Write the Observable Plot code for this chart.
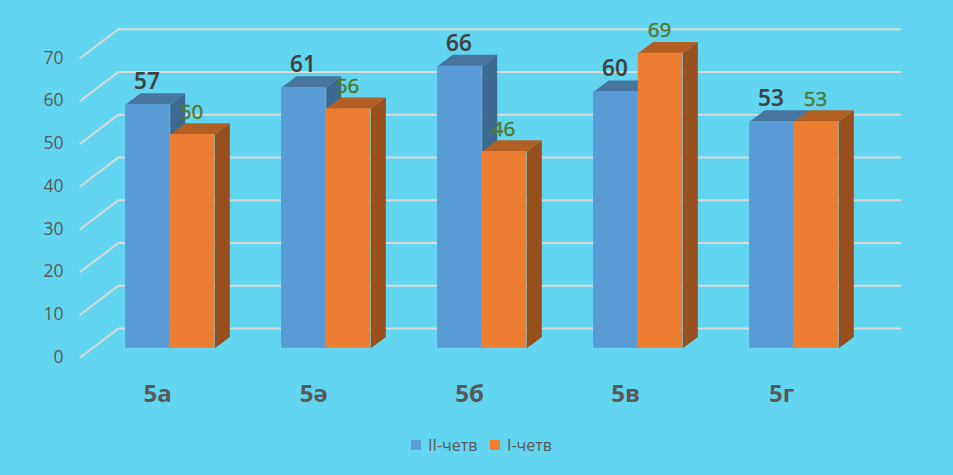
<!DOCTYPE html>
<html>
<head>
<meta charset="utf-8">
<script src="https://cdn.jsdelivr.net/npm/d3@7"></script>
<script src="https://cdn.jsdelivr.net/npm/@observablehq/plot@0.6"></script>
<style>
  html, body { margin: 0; padding: 0; background: #62D5F0; overflow: hidden; }
  #legend { height: 50px; position: relative; font-family: "Open Sans", sans-serif; font-size: 16px; color: #595959; }
  #legend span { position: absolute; top: 8px; line-height: 24px; white-space: nowrap; }
  #legend i { position: absolute; top: 15px; width: 10px; height: 10px; }
</style>
</head>
<body>
<div id="chart"></div>
<div id="legend">
  <i style="left:411px;background:#5B9BD5"></i><span style="left:428px">II-четв</span>
  <i style="left:490px;background:#ED7D31"></i><span style="left:507px">I-четв</span>
</div>
<script>
const categories = ["5а", "5ә", "5б", "5в", "5г"];
const quarter2 = [57, 61, 66, 60, 53];
const quarter1 = [50, 56, 46, 69, 53];
const gridValues = [0, 10, 20, 30, 40, 50, 60, 70];

const W = 953, H = 425, originX = 169.7, stepX = 156, baseY = 347.7, unitY = 4.275;
const barW = 44.6 / stepX, depthX = 15 / stepX, depthY = 11.3 / unitY;

const styles = [
  {name: "q2", values: quarter2, from: -barW, front: "#5B9BD5", top: "#4675A0", side: "#3C6A93", label: "#404040", size: 22.5, weight: 600, halo: 0.2},
  {name: "q1", values: quarter1, from: 0, front: "#ED7D31", top: "#B15F22", side: "#974F1D", label: "#4F7A30", size: 20.5, weight: 400, halo: 0.5}
];

const gridRows = gridValues.flatMap(v => [
  {v, x: (80 - originX) / stepX, y: v - 9 / unitY},
  {v, x: (118 - originX) / stepX, y: v + 19.8 / unitY},
  {v, x: (900 - originX) / stepX, y: v + 19.8 / unitY}
]);

const marks = [
  Plot.line(gridRows, {x: "x", y: "y", z: "v", stroke: "#D9D9D9", strokeWidth: 2, curve: "linear"})
];

for (const s of styles) {
  const bars = s.values.map((v, i) => ({i, v, x1: i + s.from, x2: i + s.from + barW}));
  const side = bars.flatMap(b => [
    {id: b.i, x: b.x2, y: 0}, {id: b.i, x: b.x2 + depthX, y: depthY},
    {id: b.i, x: b.x2 + depthX, y: b.v + depthY}, {id: b.i, x: b.x2, y: b.v}
  ]);
  const top = bars.flatMap(b => [
    {id: b.i, x: b.x1, y: b.v}, {id: b.i, x: b.x1 + depthX, y: b.v + depthY},
    {id: b.i, x: b.x2 + depthX, y: b.v + depthY}, {id: b.i, x: b.x2, y: b.v}
  ]);
  marks.push(
    Plot.line(side, {x: "x", y: "y", z: "id", fill: s.side, stroke: "none", curve: "linear-closed"}),
    Plot.line(top, {x: "x", y: "y", z: "id", fill: s.top, stroke: "none", curve: "linear-closed"}),
    Plot.rect(bars, {x1: "x1", x2: "x2", y1: () => 0, y2: "v", fill: s.front})
  );
}

for (const s of styles) {
  marks.push(Plot.text(s.values, {
    x: (v, i) => i + s.from + barW / 2,
    y: v => v,
    text: v => String(v),
    dx: -1, dy: -22.5,
    fill: s.label, stroke: s.label, strokeWidth: s.halo,
    fontSize: s.size, fontWeight: s.weight, fontFamily: "Open Sans"
  }));
}

marks.push(
  Plot.axisY({
    anchor: "left", ticks: gridValues, tickSize: 0, tickPadding: 0, dx: 63, dy: 9,
    tickFormat: d => String(d), label: null,
    fontSize: 17.5, fontFamily: "Open Sans", color: "#595959", textAnchor: "end"
  }),
  Plot.axisX({
    anchor: "bottom", ticks: categories.map((_, i) => i), tickSize: 0, tickPadding: 37, dx: -12.5,
    tickFormat: i => categories[i], label: null,
    fontSize: 24, fontWeight: 700, fontFamily: "Open Sans", color: "#595959"
  })
);

const chart = Plot.plot({
  width: W, height: H,
  marginLeft: 0, marginRight: 0, marginTop: 0, marginBottom: H - baseY,
  style: {background: "transparent", overflow: "visible"},
  x: {domain: [-originX / stepX, (W - originX) / stepX], range: [0, W]},
  y: {domain: [0, baseY / unitY], range: [baseY, 0]},
  marks
});
document.getElementById("chart").appendChild(chart);
</script>
</body>
</html>
